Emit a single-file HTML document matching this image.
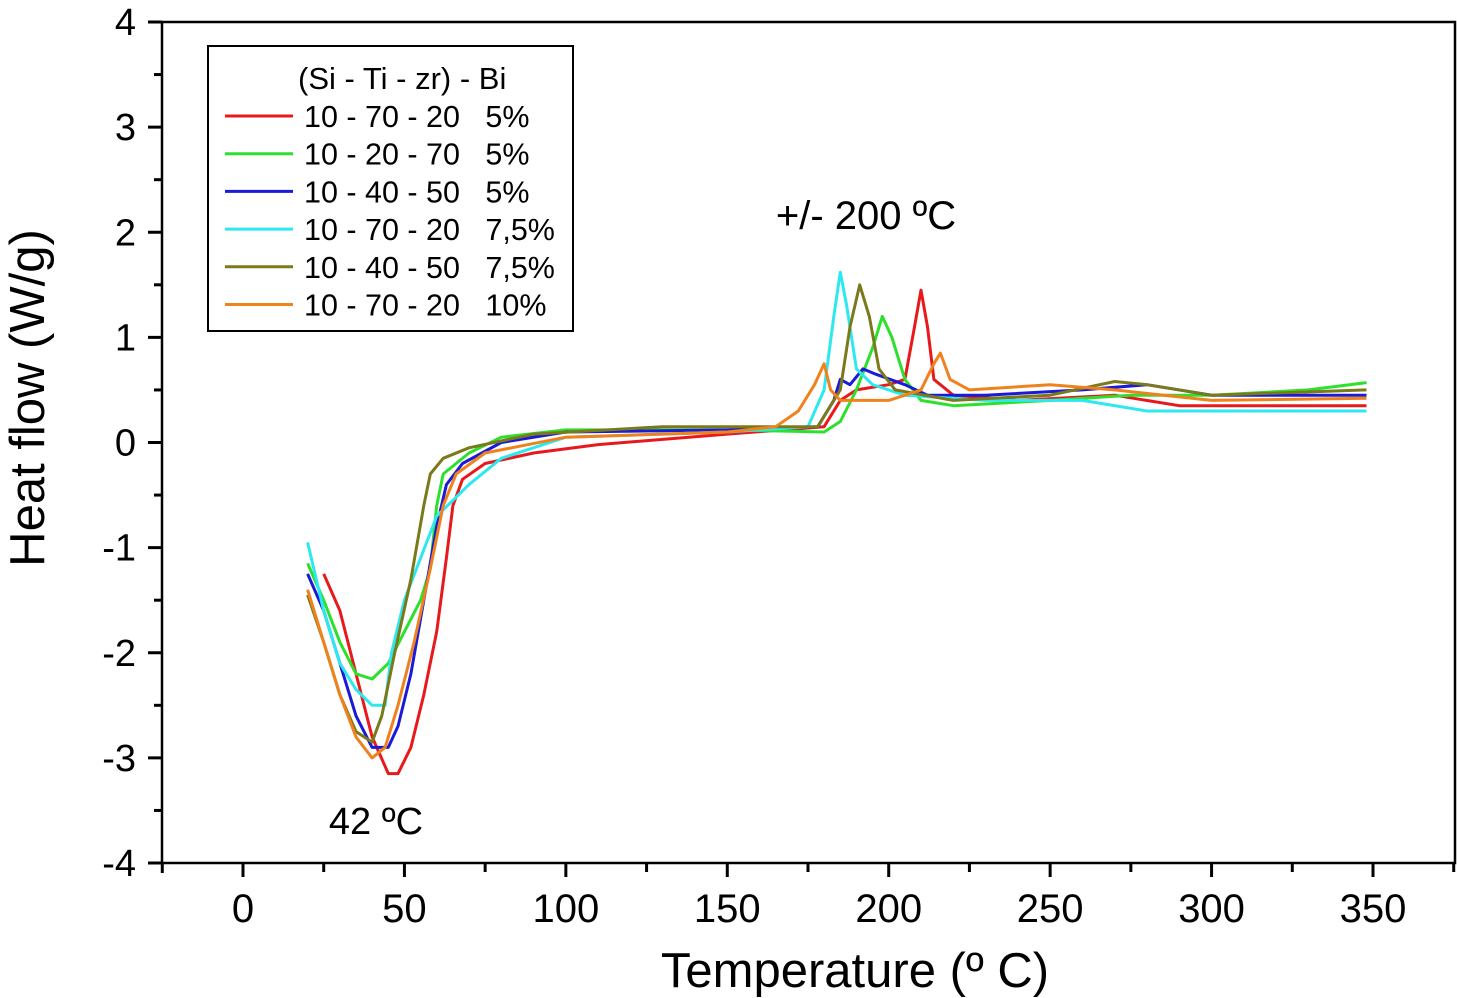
<!DOCTYPE html>
<html><head><meta charset="utf-8"><style>
body{margin:0;background:#fff;}
svg{display:block;font-family:"Liberation Sans",Arial,sans-serif;}
</style></head><body>
<svg id="chart" width="1457" height="998" xmlns="http://www.w3.org/2000/svg">
<g id="plot"></g>
<g id="axes"></g>
<text x="376" y="834" font-size="38" text-anchor="middle">42 ºC</text>
<text x="866" y="229" font-size="40" text-anchor="middle">+/- 200 ºC</text>
<text x="855" y="987" font-size="49" text-anchor="middle">Temperature (º C)</text>
<text transform="translate(44,398) rotate(-90)" font-size="49" text-anchor="middle">Heat flow (W/g)</text>
<g id="legend"></g>
</svg>
<script>
const xTicks=[0,50,100,150,200,250,300,350];
const yTicks=[-4,-3,-2,-1,0,1,2,3,4];
const seriesNames=["10 - 70 - 20   5%","10 - 20 - 70   5%","10 - 40 - 50   5%","10 - 70 - 20   7,5%","10 - 40 - 50   7,5%","10 - 70 - 20   10%"];
const seriesColors=["#e8191c","#2ee02e","#1a1ad8","#2ee8f0","#7a7a1a","#f0821e"];
const redT=[25,30,35,40,45,48,52,56,60,63,65,68,75,90,110,150,180,185,190,200,205,208,210,212,214,220,240,270,290,348];
const redV=[-1.25,-1.6,-2.2,-2.8,-3.15,-3.15,-2.9,-2.4,-1.8,-1.1,-0.6,-0.35,-0.2,-0.1,-0.02,0.08,0.15,0.4,0.5,0.55,0.6,1.1,1.45,1.1,0.6,0.45,0.4,0.45,0.35,0.35];
const greenT=[20,25,30,35,40,45,50,55,58,60,62,70,80,100,150,180,185,190,195,198,201,205,210,220,250,275,300,330,348];
const greenV=[-1.15,-1.5,-1.9,-2.2,-2.25,-2.1,-1.8,-1.5,-1.2,-0.6,-0.3,-0.1,0.05,0.12,0.12,0.1,0.2,0.5,0.9,1.2,1.0,0.6,0.4,0.35,0.4,0.45,0.45,0.5,0.57];
const blueT=[20,25,30,35,40,45,48,52,56,60,63,68,80,100,150,178,183,185,188,192,196,205,212,230,260,280,300,348];
const blueV=[-1.25,-1.6,-2.1,-2.6,-2.9,-2.9,-2.7,-2.2,-1.5,-0.8,-0.4,-0.2,0,0.1,0.12,0.15,0.4,0.6,0.55,0.7,0.65,0.55,0.45,0.45,0.5,0.55,0.45,0.45];
const cyanT=[20,25,30,35,40,44,46,50,55,60,65,70,80,100,150,175,180,183,185,187,190,195,205,230,260,280,348];
const cyanV=[-0.95,-1.6,-2.1,-2.35,-2.5,-2.5,-2.0,-1.5,-1.1,-0.7,-0.55,-0.4,-0.15,0.05,0.1,0.15,0.5,1.2,1.62,1.3,0.7,0.55,0.45,0.4,0.4,0.3,0.3];
const oliveT=[20,25,30,35,40,43,47,52,56,58,62,70,90,130,178,185,188,191,194,197,202,220,250,270,280,300,348];
const oliveV=[-1.45,-1.9,-2.4,-2.75,-2.85,-2.6,-2.0,-1.3,-0.6,-0.3,-0.15,-0.05,0.08,0.15,0.15,0.5,1.1,1.5,1.2,0.7,0.5,0.4,0.45,0.58,0.55,0.45,0.5];
const orangeT=[20,25,30,35,40,44,48,53,58,62,66,75,100,150,165,172,177,180,182,185,200,210,214,216,219,225,250,270,300,348];
const orangeV=[-1.4,-1.9,-2.4,-2.8,-3.0,-2.9,-2.5,-1.9,-1.2,-0.6,-0.3,-0.1,0.05,0.1,0.15,0.3,0.55,0.75,0.5,0.4,0.4,0.5,0.75,0.85,0.6,0.5,0.55,0.5,0.4,0.42];
const seriesT=[redT,greenT,blueT,cyanT,oliveT,orangeT];
const seriesV=[redV,greenV,blueV,cyanV,oliveV,orangeV];

const NS="http://www.w3.org/2000/svg";
const L=162,R=1455,T=22,B=863;
const yMin=-4,yMax=4;
const x0=243,x350=1373;
function sx(v){return x0+(v)*(x350-x0)/350;}
function sy(v){return B-(v-yMin)*(B-T)/(yMax-yMin);}
function mk(tag,attrs,parent){const e=document.createElementNS(NS,tag);for(const k in attrs)e.setAttribute(k,attrs[k]);parent.appendChild(e);return e;}
const plot=document.getElementById('plot'),axes=document.getElementById('axes'),legend=document.getElementById('legend');
seriesT.forEach((ts,i)=>{
  const d=ts.map((t,j)=>(j?'L':'M')+sx(t).toFixed(1)+','+sy(seriesV[i][j]).toFixed(1)).join('');
  const p=mk('path',{d:d,fill:'none',stroke:seriesColors[i],'stroke-width':3,'stroke-linejoin':'round'},plot);
  
  
});
mk('rect',{x:L,y:T,width:R-L,height:B-T,fill:'none',stroke:'#000','stroke-width':2.5},axes);
yTicks.forEach(v=>{
  mk('line',{x1:L-14,x2:L,y1:sy(v),y2:sy(v),stroke:'#000','stroke-width':3},axes);
  if(v<yMax) mk('line',{x1:L-8,x2:L,y1:sy(v+0.5),y2:sy(v+0.5),stroke:'#000','stroke-width':3},axes);
  const t=mk('text',{x:L-26,y:sy(v)+13,'font-size':38,'text-anchor':'end'},axes);t.textContent=v;
  
  
});
mk('line',{x1:sx(-25),x2:sx(-25),y1:B,y2:B+10,stroke:'#000','stroke-width':3},axes);
xTicks.forEach(v=>{
  mk('line',{x1:sx(v),x2:sx(v),y1:B,y2:B+14,stroke:'#000','stroke-width':3},axes);
  mk('line',{x1:sx(v+25),x2:sx(v+25),y1:B,y2:B+9,stroke:'#000','stroke-width':3},axes);
  const t=mk('text',{x:sx(v),y:B+59,'font-size':40,'text-anchor':'middle'},axes);t.textContent=v;
  
  
});
mk('rect',{x:208,y:46,width:365,height:285,fill:'#fff',stroke:'#000','stroke-width':2},legend);
const lt=mk('text',{x:298,y:89,'font-size':31},legend);lt.textContent='(Si - Ti - zr) - Bi';


seriesNames.forEach((n,i)=>{
  const y=116+i*37.7;
  const ln=mk('line',{x1:225,x2:293,y1:y,y2:y,stroke:seriesColors[i],'stroke-width':3},legend);
  
  
  const t=mk('text',{x:304,y:y+11,'font-size':30.5},legend);t.textContent=n;
  t.setAttribute('style','white-space:pre');
  
  
});
</script>
</body></html>
